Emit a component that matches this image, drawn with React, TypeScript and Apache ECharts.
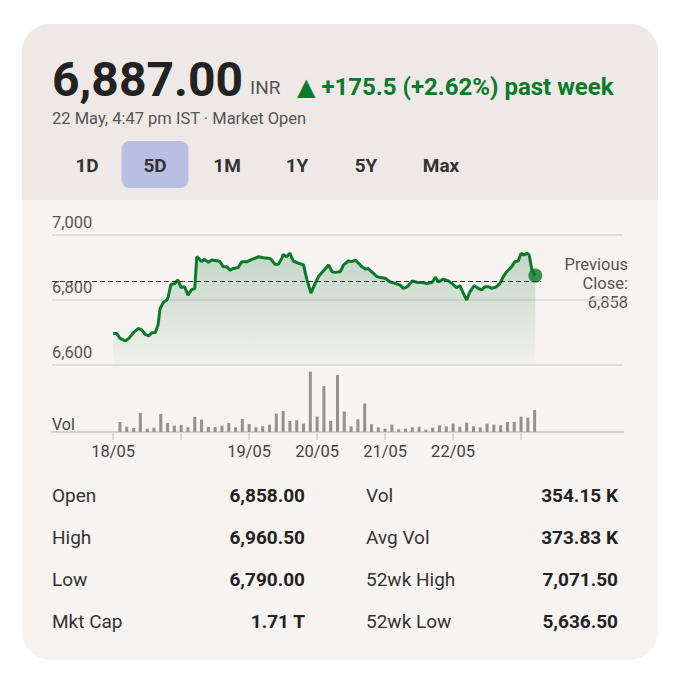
import React, { useEffect, useRef } from 'react';
import * as echarts from 'echarts';

// ---- Data ----
const lastPrice = '6,887.00';
const currency = 'INR';
const changeText = '▲ +175.5 (+2.62%) past week';
const subtitle = '22 May, 4:47 pm IST · Market Open';
const ranges = ['1D', '5D', '1M', '1Y', '5Y', 'Max'];
const activeRange = '5D';
const prevClose = 6858;

// time in 5-day session slots (0 = 18/05 open), price in INR
const lineTime = [0, 0.5, 1, 1.8, 2.3, 3, 3.7, 4.2, 4.7, 5.2, 5.7, 6.2, 6.6, 6.9, 7.4, 7.9, 8.1, 8.5, 9.1, 9.5,
  10, 10.5, 11, 11.5, 12, 12.3, 12.6, 13, 13.4, 14, 14.5, 15.5, 15.7, 16.2, 16.7, 17.2, 17.7, 18.4, 18.9, 19.7,
  20.4, 21.4, 22.1, 23.1, 23.8, 24.3, 24.8, 25, 25.5, 26, 26.5, 27.3, 28, 28.5, 29.1, 29.6, 30.2, 30.9, 31.7, 32.2,
  32.6, 33.4, 33.9, 34.6, 35.1, 35.6, 36.1, 36.6, 37.1, 37.5, 38, 38.8, 39.3, 40, 40.7, 41.5, 42.2, 42.7, 43.3, 44,
  44.7, 45.4, 46.1, 46.9, 47.4, 47.8, 48.6, 49.3, 50, 50.5, 51, 51.5, 52, 52.5, 53.1, 53.7, 54.2, 54.7, 55.2, 55.7,
  56.4, 56.9, 57.4, 57.9, 58.6, 59.1, 59.6, 60, 60.4, 60.9, 61.2, 61.6, 62.1];
const linePrice = [6697, 6697, 6682, 6674, 6682, 6700, 6713, 6708, 6694, 6690, 6699, 6700, 6723, 6774, 6793, 6800, 6810, 6848, 6851, 6862,
  6838, 6841, 6815, 6831, 6836, 6933, 6928, 6918, 6926, 6916, 6923, 6920, 6918, 6902, 6902, 6892, 6897, 6900, 6918, 6918,
  6925, 6933, 6930, 6928, 6910, 6910, 6928, 6940, 6933, 6944, 6920, 6913, 6908, 6862, 6821, 6846, 6872, 6889, 6908, 6887,
  6885, 6887, 6908, 6920, 6918, 6923, 6913, 6902, 6895, 6897, 6887, 6872, 6869, 6867, 6856, 6851, 6846, 6836, 6841, 6859,
  6854, 6854, 6851, 6854, 6870, 6856, 6864, 6859, 6848, 6838, 6844, 6821, 6800, 6826, 6844, 6836, 6831, 6841, 6841, 6836,
  6841, 6851, 6872, 6887, 6902, 6918, 6920, 6944, 6938, 6944, 6938, 6892, 6875];

// volume per slot (thousands), slots 1..62
const volumes = [30, 16, 12, 57, 10, 13, 54, 27, 19, 21, 14, 45, 37, 15, 15, 19, 27, 14, 39, 24,
  14, 17, 22, 55, 63, 33, 35, 25, 180, 46, 137, 33, 170, 61, 17, 38, 85, 23, 14, 10,
  22, 8, 10, 14, 16, 7, 13, 20, 17, 25, 16, 28, 17, 14, 25, 22, 20, 30, 30, 46, 43, 66];

const dayTicks = [0, 10, 20, 30, 40, 50, 60];
const dayLabels = ['18/05', '', '19/05', '20/05', '21/05', '22/05', ''];

const priceTicks = [6600, 6800, 7000];

const statLabels1 = ['Open', 'High', 'Low', 'Mkt Cap'];
const statValues1 = ['6,858.00', '6,960.50', '6,790.00', '1.71 T'];
const statLabels2 = ['Vol', 'Avg Vol', '52wk High', '52wk Low'];
const statValues2 = ['354.15 K', '373.83 K', '7,071.50', '5,636.50'];

// ---- Styles ----
const FONT = 'Roboto, "Noto Sans", "DejaVu Sans", sans-serif';
const GREEN = '#0B7A2C';

function buildOption() {
  const lineData = lineTime.map((t, i) => [t, linePrice[i]]);
  const volData = volumes.map((v, i) => [i + 1, v]);
  const last = lineData[lineData.length - 1];

  const tabCenters = [87, 155, 227, 297, 366, 441];
  const graphics: any[] = [];

  graphics.push({ type: 'text', x: 52, y: 79, style: { text: lastPrice, font: `bold 48px ${FONT}`, fill: '#222', align: 'left', verticalAlign: 'middle' } });
  graphics.push({ type: 'text', x: 250, y: 87, style: { text: currency, font: `19px ${FONT}`, fill: '#555', align: 'left', verticalAlign: 'middle' } });
  graphics.push({ type: 'text', x: 297, y: 87, style: { text: changeText, font: `bold 24px ${FONT}`, fill: GREEN, align: 'left', verticalAlign: 'middle' } });
  graphics.push({ type: 'text', x: 52, y: 118, style: { text: subtitle, font: `16.5px ${FONT}`, fill: '#555', align: 'left', verticalAlign: 'middle' } });

  ranges.forEach((r, i) => {
    if (r === activeRange) {
      graphics.push({ type: 'rect', shape: { x: tabCenters[i] - 33.5, y: 141, width: 67, height: 47, r: 8 }, style: { fill: '#B9BFE2' } });
    }
    graphics.push({ type: 'text', x: tabCenters[i], y: 165, style: { text: r, font: `bold 19px ${FONT}`, fill: '#333', align: 'center', verticalAlign: 'middle' } });
  });

  graphics.push({ type: 'text', x: 628, y: 283, style: { text: 'Previous\nClose:\n' + prevClose.toLocaleString('en-US'), font: `16.5px ${FONT}`, lineHeight: 19, fill: '#555', align: 'right', verticalAlign: 'middle' } });

  const rowY = [495, 537, 579, 621];
  rowY.forEach((y, i) => {
    graphics.push({ type: 'text', x: 52, y, style: { text: statLabels1[i], font: `19px ${FONT}`, fill: '#333', align: 'left', verticalAlign: 'middle' } });
    graphics.push({ type: 'text', x: 305, y, style: { text: statValues1[i], font: `bold 19px ${FONT}`, fill: '#222', align: 'right', verticalAlign: 'middle' } });
    graphics.push({ type: 'text', x: 366, y, style: { text: statLabels2[i], font: `19px ${FONT}`, fill: '#333', align: 'left', verticalAlign: 'middle' } });
    graphics.push({ type: 'text', x: 618, y, style: { text: statValues2[i], font: `bold 19px ${FONT}`, fill: '#222', align: 'right', verticalAlign: 'middle' } });
  });

  return {
    animation: false,
    backgroundColor: 'transparent',
    textStyle: { fontFamily: FONT },
    graphic: graphics,
    grid: [
      { left: 52, right: 52, top: 235, height: 130 },
      { left: 52, right: 52, top: 365, height: 67 },
    ],
    xAxis: [
      { type: 'value', gridIndex: 0, min: -9, max: 75, show: false },
      {
        type: 'value', gridIndex: 1, min: -9, max: 75,
        axisLine: { show: true, lineStyle: { color: '#D5D1CD', width: 2 } },
        axisTick: { show: true, customValues: dayTicks, length: 8, lineStyle: { color: '#D5D1CD', width: 1.5 } },
        axisLabel: {
          customValues: dayTicks, color: '#444', fontSize: 16.5, margin: 11, fontFamily: FONT,
          formatter: (v: number) => { const k = dayTicks.indexOf(v); return k >= 0 ? dayLabels[k] : ''; },
        },
        splitLine: { show: false },
      },
    ],
    yAxis: [
      {
        type: 'value', gridIndex: 0, min: priceTicks[0], max: priceTicks[priceTicks.length - 1], interval: 200,
        axisLine: { show: false }, axisTick: { show: false },
        axisLabel: {
          inside: true, margin: 0, verticalAlign: 'bottom', padding: [0, 0, 4, 0], color: '#555', fontSize: 16.5, fontFamily: FONT,
          formatter: (v: number) => v.toLocaleString('en-US'),
        },
        splitLine: { lineStyle: { color: '#DAD6D2', width: 1.5 } },
      },
      {
        type: 'value', gridIndex: 1, min: 0, max: 200, interval: 200,
        axisLine: { show: false }, axisTick: { show: false }, splitLine: { show: false },
        axisLabel: {
          inside: true, margin: 0, verticalAlign: 'bottom', padding: [0, 0, 0, 0], color: '#444', fontSize: 16, fontFamily: FONT,
          formatter: (v: number) => (v === 0 ? 'Vol' : ''),
        },
      },
    ],
    series: [
      {
        type: 'bar', xAxisIndex: 1, yAxisIndex: 1, data: volData, barWidth: 3,
        itemStyle: { color: '#94918E' }, silent: true,
      },
      {
        type: 'line', xAxisIndex: 0, yAxisIndex: 0, data: lineData, showSymbol: false, smooth: false,
        lineStyle: { color: GREEN, width: 3 },
        areaStyle: {
          color: new echarts.graphic.LinearGradient(0, 0, 0, 1, [
            { offset: 0, color: 'rgba(20,115,50,0.32)' },
            { offset: 1, color: 'rgba(20,115,50,0.03)' },
          ]),
        },
        markLine: {
          silent: true, symbol: ['none', 'none'], label: { show: false },
          lineStyle: { type: [5, 3], color: '#333', width: 1.2 },
          data: [[{ coord: [-9, prevClose] }, { coord: [63, prevClose] }]],
        },
        z: 3,
      },
      {
        type: 'scatter', xAxisIndex: 0, yAxisIndex: 0, data: [last], symbolSize: 14,
        itemStyle: { color: GREEN }, z: 4, silent: true,
      },
    ],
  };
}

export default function App() {
  const ref = useRef<HTMLDivElement>(null);
  useEffect(() => {
    if (!ref.current) return;
    const chart = echarts.init(ref.current, null, { renderer: 'svg' });
    chart.setOption(buildOption() as any);
    return () => chart.dispose();
  }, []);
  return (
    <div style={{ position: 'fixed', left: 0, top: 0, width: 675, height: 677, background: '#fff', overflow: 'hidden' }}>
      <div style={{ position: 'absolute', left: 22, top: 24, width: 636, height: 636, borderRadius: 28, background: '#F6F3F0', overflow: 'hidden' }}>
        <div style={{ height: 176, background: '#EEE9E6' }} />
      </div>
      <div ref={ref} style={{ position: 'absolute', left: 0, top: 0, width: 675, height: 677 }} />
    </div>
  );
}
